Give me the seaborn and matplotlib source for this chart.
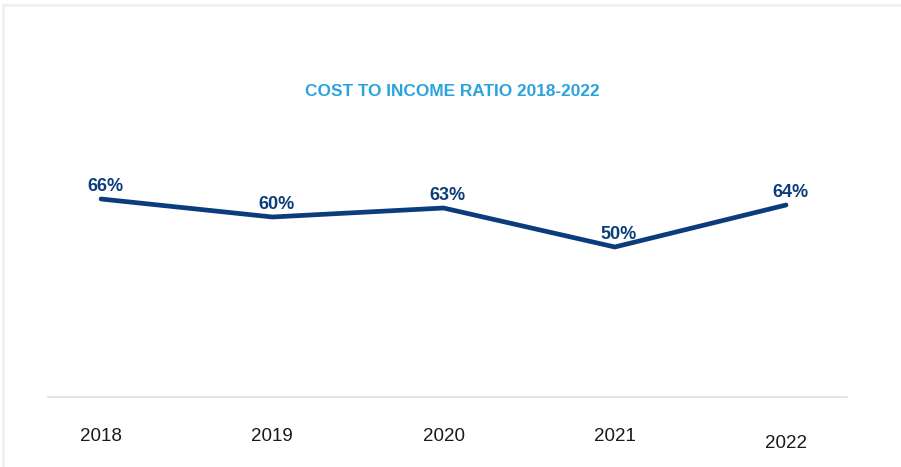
import matplotlib
matplotlib.use("Agg")
import matplotlib.pyplot as plt
from matplotlib.lines import Line2D
from matplotlib.transforms import ScaledTranslation
import seaborn as sns
import pandas as pd

# Cost to income ratio by year (percent)
years = ["2018", "2019", "2020", "2021", "2022"]
ratios = [66, 60, 63, 50, 64]

title_text = "COST TO INCOME RATIO 2018-2022"
line_color = "#0b3d7c"
title_color = "#2ba3dd"
axis_color = "#e2e2e2"
frame_color = "#efefef"

sns.set_theme(style="white")
plt.rcParams["font.family"] = ["Liberation Sans", "DejaVu Sans"]

df = pd.DataFrame({"pos": range(len(years)), "year": years, "ratio": ratios})

fig = plt.figure(figsize=(9.01, 4.67), dpi=100)
fig.patch.set_facecolor("white")
ax = fig.add_axes([48 / 901, 70 / 467, 799 / 901, 300 / 467])

sns.lineplot(data=df, x="pos", y="ratio", ax=ax, color=line_color,
             linewidth=3.4, sort=False, solid_capstyle="round",
             solid_joinstyle="miter", legend=False)

ax.set_xlim(-0.31, 4.356)
ax.set_ylim(0, 100)
ax.set_xlabel("")
ax.set_ylabel("")
ax.set_yticks([])
ax.set_xticks([])
for side in ("top", "left", "right"):
    ax.spines[side].set_visible(False)
ax.spines["bottom"].set_color(axis_color)
ax.spines["bottom"].set_linewidth(1.3)

# value labels above each point
for x, v in zip(df["pos"], df["ratio"]):
    ax.annotate(f"{v}%", xy=(x, v), xytext=(3, 5.5), textcoords="offset points",
                ha="center", va="baseline", fontsize=13, fontweight="bold",
                color=line_color)

# year labels under the axis
xform = ax.get_xaxis_transform()
for i, (x, y) in enumerate(zip(df["pos"], years)):
    drop = 51 if i == len(years) - 1 else 44
    t = xform + ScaledTranslation(0, -drop / 100, fig.dpi_scale_trans)
    ax.text(x, 0, y, transform=t, ha="center", va="baseline",
            fontsize=13.5, color="#1a1a1a")

fig.text(452.5 / 901, 1 - 91 / 467, title_text, ha="center", va="center",
         fontsize=12.4, fontweight="bold", color=title_color)

# light outer frame (top and left edges)
fig.add_artist(Line2D([3 / 901, 1], [1 - 4.5 / 467, 1 - 4.5 / 467],
                      transform=fig.transFigure, color=frame_color, linewidth=2))
fig.add_artist(Line2D([3 / 901, 3 / 901], [0, 1 - 4.5 / 467],
                      transform=fig.transFigure, color=frame_color, linewidth=2))

fig.savefig("out.png", dpi=100, facecolor="white")
